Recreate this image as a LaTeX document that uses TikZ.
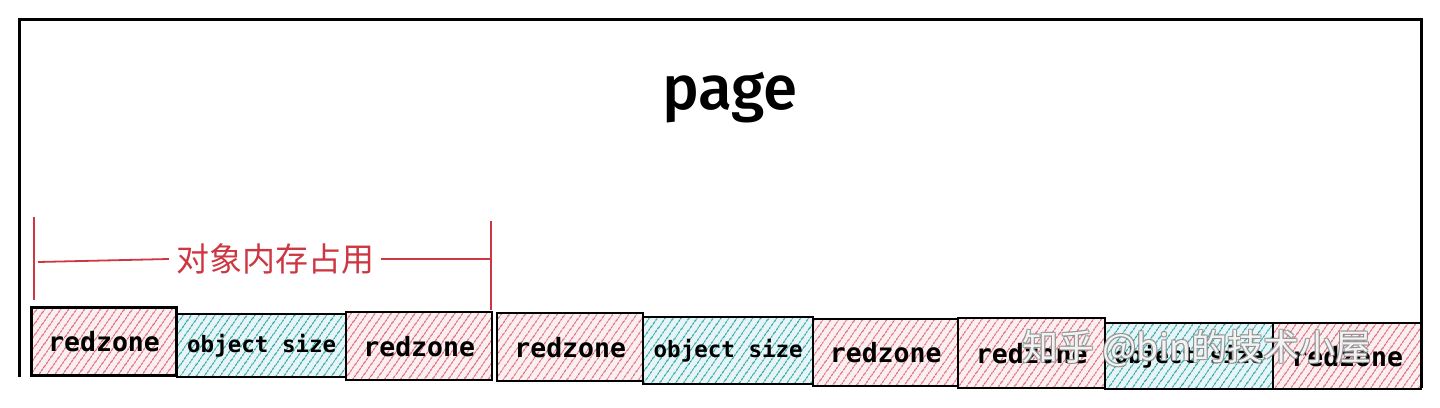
\documentclass[tikz,border=0pt]{standalone}
\usepackage{fontspec}
\setmainfont{Noto Sans}
\newfontfamily\pagef{Fira Sans}[UprightFont=* Medium]
\newfontfamily\monof{DejaVu Sans Mono}
\newfontfamily\cjkf{Noto Sans CJK SC}
\usetikzlibrary{patterns.meta}
\definecolor{hred}{RGB}{220,100,112}
\definecolor{hteal}{RGB}{30,160,165}
\definecolor{bred}{RGB}{205,55,65}
\begin{document}
\begin{tikzpicture}[x=1pt,y=-1pt,
  blk/.style={draw=black, line width=2.4pt, inner sep=0pt, anchor=north west},
  rz/.style={blk, preaction={fill=hred!10}, pattern={Lines[angle=55,distance=6.5pt,line width=1.1pt]}, pattern color=hred,
    font=\monof\bfseries\fontsize{26.5}{26.5}\selectfont},
  os/.style={blk, preaction={fill=hteal!10}, pattern={Lines[angle=55,distance=6.5pt,line width=1.1pt]}, pattern color=hteal,
    font=\monof\bfseries\fontsize{22.5}{22.5}\selectfont},
  brk/.style={draw=bred, line width=1.8pt},
  wm/.style={font=\cjkf\fontsize{36}{36}\selectfont, inner sep=0pt}
]
\useasboundingbox (0,0) rectangle (1440,407);
% page outline
\coordinate (pbl) at (19,377);
\coordinate (ptl) at (19,19);
\coordinate (ptr) at (1421,19);
\coordinate (pbr) at (1421,388);
\draw[line width=3pt, line join=miter] (pbl) -- (ptl) -- (ptr) -- (pbr);
\node[font=\pagef\fontsize{62}{62}\selectfont] (page) at (730,98) {page};
% blocks
\node[rz, minimum width=145pt, minimum height=68pt] (b1) at (31,307) {redzone};
\node[os, minimum width=169pt, minimum height=63pt] (b2) at (176,313) {object size};
\node[rz, minimum width=146pt, minimum height=68pt] (b3) at (345,311) {redzone};
\node[rz, minimum width=146pt, minimum height=68pt] (b4) at (496,312) {redzone};
\node[os, minimum width=170pt, minimum height=67pt] (b5) at (642,316) {object size};
\node[rz, minimum width=145pt, minimum height=67pt] (b6) at (812,318) {redzone};
\node[rz, minimum width=147pt, minimum height=70pt] (b7) at (957,317) {redzone};
\node[os, minimum width=168pt, minimum height=66pt] (b8) at (1104,322) {object size};
\node[rz, minimum width=148pt, minimum height=66pt] (b9) at (1272,322) {redzone};
% bracket
\node[font=\cjkf\fontsize{33}{33}\selectfont, text=bred, inner sep=7pt] (mem) at (275,259) {对象内存占用};
\coordinate (bl1) at (34,217);
\coordinate (bl2) at (34,300);
\coordinate (br1) at (491,221);
\coordinate (br2) at (491,310);
\draw[brk] (bl1) -- (bl2);
\draw[brk] (br1) -- (br2);
\draw[brk] (bl1 |- mem.west) ++(4,3) -- (mem.west);
\draw[brk] (mem.east) -- (br1 |- mem.east);
% watermark
\foreach \dx/\dy in {-1/-1,1/-1,-1/1,1/1}{
  \node[wm, text=black!45, opacity=0.8] at (1197+\dx,348+\dy) {知乎 @bin的技术小屋};
}
\node[wm, text=white, opacity=0.9] (wmk) at (1197,348) {知乎 @bin的技术小屋};
\end{tikzpicture}
\end{document}
